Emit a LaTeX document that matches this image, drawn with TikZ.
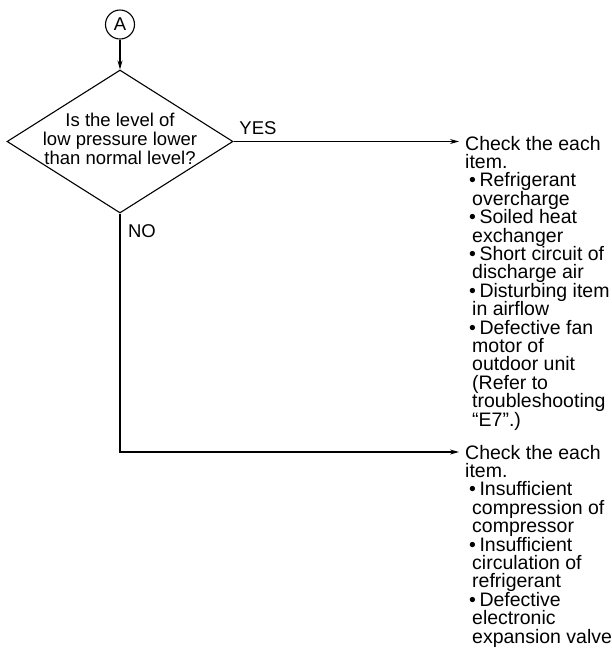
\documentclass[tikz,border=0pt]{standalone}
\usepackage{fontspec}
\setmainfont{Liberation Sans}
\usetikzlibrary{arrows.meta,shapes.geometric}
\tikzset{
  conn/.style={line width=1.1pt, draw=black},
  arr/.style={conn, -{Stealth[length=9pt,width=5pt]}},
  dia/.style={diamond, draw, line width=1.1pt, minimum width=226pt, minimum height=143pt, inner sep=0pt},
  qtxt/.style={align=center, inner sep=0pt, font=\fontsize{18.5}{19}\selectfont},
  lbl/.style={inner sep=0pt, font=\fontsize{18.5}{19}\selectfont},
  blk/.style={align=left, inner sep=0pt, anchor=north west, font=\fontsize{19.5}{18.4}\selectfont},
  conncircle/.style={circle, draw, line width=1.1pt, minimum size=29pt, inner sep=0pt, font=\fontsize{18.5}{18.5}\selectfont}
}
\newcommand{\bul}[1]{\hspace*{4pt}\textbullet\hspace*{3.5pt}#1}
\newcommand{\cnt}[1]{\hspace*{7pt}#1}
\begin{document}
\begin{tikzpicture}[x=1pt,y=-1pt]
\useasboundingbox (0,0) rectangle (612,649);
\node[conncircle] (a) at (120,24.5) {A};
\node[dia] (q) at (120,141.5) {};
\node[qtxt] (qt) at (120,139) {Is the level of\\low pressure lower\\than normal level?};
\node[lbl] (yes) at (258,128) {YES};
\node[lbl] (no) at (142,231) {NO};
\node[blk] (c1) at (465,135.8) {Check the each\\item.\\
\bul{Refrigerant}\\\cnt{overcharge}\\
\bul{Soiled heat}\\\cnt{exchanger}\\
\bul{Short circuit of}\\\cnt{discharge air}\\
\bul{Disturbing item}\\\cnt{in airflow}\\
\bul{Defective fan}\\\cnt{motor of}\\\cnt{outdoor unit}\\\cnt{(Refer to}\\\cnt{troubleshooting}\\\cnt{“E7”.)}};
\node[blk] (c2) at (465,444.8) {Check the each\\item.\\
\bul{Insufficient}\\\cnt{compression of}\\\cnt{compressor}\\
\bul{Insufficient}\\\cnt{circulation of}\\\cnt{refrigerant}\\
\bul{Defective}\\\cnt{electronic}\\\cnt{expansion valve}};
\coordinate (turn) at (120,452);
\draw[arr] (a.south) -- (q.north);
\draw[arr, shorten >=6pt] (q.east) -- (q.east -| c1.west);
\draw[arr, shorten >=6pt] (q.south) -- (turn) -- (turn -| c2.west);
\end{tikzpicture}
\end{document}
